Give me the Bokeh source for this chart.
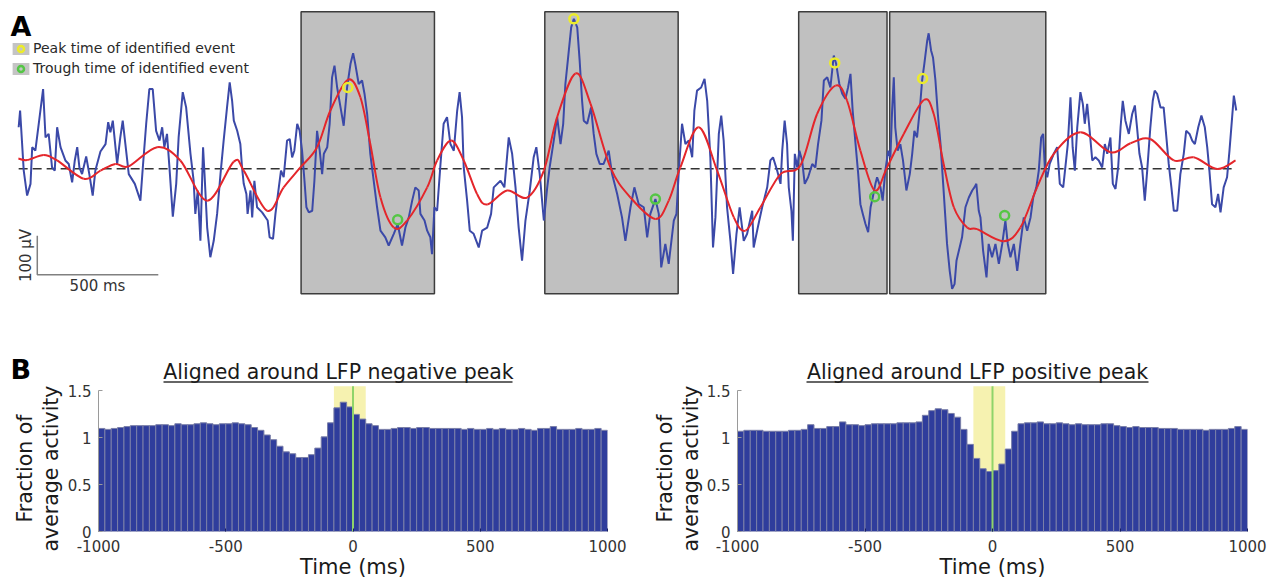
from math import pi
from bokeh.plotting import figure
from bokeh.layouts import column, row
from bokeh.models import (Range1d, Label, Legend, LegendItem, FixedTicker,
                          NumeralTickFormatter)
from bokeh.embed import file_html
from bokeh.resources import INLINE

FONT = "DejaVu Sans"

# ---------------- Panel A data: raw LFP (ms, uV) ----------------
lfp_t = [1, 7, 22, 36, 50, 57, 70, 84, 102, 112, 125, 139, 150, 160, 174, 194, 208, 222, 233, 243,
         252, 263, 280, 293, 307, 318, 339, 360, 371, 380, 390, 408, 421, 431, 442, 456, 481, 504, 514, 528,
         541, 555, 569, 583, 594, 603, 614, 625, 638, 652, 662, 679, 693, 711,
         724, 731, 741, 752, 763, 769, 780, 793, 807, 821, 835, 848, 862, 873, 883, 890, 904, 917, 924, 931,
         942, 947, 959, 966, 975, 986, 1007, 1030, 1038, 1052, 1062, 1076, 1085, 1096, 1110, 1121, 1131, 1140,
         1152, 1162, 1172, 1182, 1190, 1200, 1214, 1223, 1234, 1245, 1255, 1262, 1276, 1286, 1296, 1306, 1317,
         1331, 1344, 1358, 1372, 1383, 1392, 1406, 1420, 1430, 1441, 1454,
         1461, 1482, 1496, 1516, 1530, 1551, 1567, 1585, 1599, 1613, 1627, 1640, 1654, 1661, 1678, 1689, 1702,
         1709, 1719, 1730, 1744, 1757, 1771, 1785, 1799, 1813, 1823, 1833, 1840, 1854, 1865, 1881, 1902, 1916,
         1937, 1953, 1964, 1992, 2008, 2026, 2040, 2054, 2067, 2081, 2095, 2113, 2129, 2140, 2154, 2171, 2185,
         2195, 2212, 2226, 2240, 2251, 2260, 2270, 2284, 2295, 2309, 2319, 2329, 2336, 2350, 2366, 2377, 2388,
         2402, 2418, 2439, 2453, 2474, 2494, 2508, 2529, 2545, 2563, 2584, 2598, 2611, 2632, 2646, 2656, 2673,
         2687, 2708, 2719, 2728, 2742, 2756, 2770, 2784, 2793, 2804, 2821, 2835, 2846, 2859, 2870, 2880, 2894,
         2904, 2914, 2928, 2942, 2953, 2967, 2980, 2997, 3011, 3032, 3038, 3055, 3073, 3094, 3107, 3118, 3135,
         3149,
         3156, 3166, 3176, 3183, 3194, 3200, 3208, 3218, 3227, 3238, 3249, 3263, 3280, 3293, 3304, 3318, 3328,
         3342, 3355, 3369, 3379, 3392, 3404, 3417, 3428, 3438, 3447, 3459, 3470, 3479, 3489, 3500, 3511, 3521,
         3530, 3541, 3548, 3562, 3571, 3582, 3594, 3603, 3610, 3617,
         3623, 3633, 3644, 3655, 3669, 3683, 3693, 3702, 3713, 3724, 3734, 3743, 3755, 3761, 3771, 3779, 3789,
         3799, 3810, 3821, 3830, 3837, 3848, 3858, 3868, 3876, 3889, 3899, 3913, 3927, 3941, 3950, 3958, 3968,
         3975, 3986, 4000, 4009, 4023, 4037, 4051, 4065, 4078, 4088, 4099, 4113, 4127, 4140, 4154, 4168, 4182,
         4193, 4206, 4216, 4226, 4234, 4241, 4251, 4261, 4278, 4292, 4303, 4317, 4336,
         4347, 4356, 4365, 4375, 4388, 4398, 4406, 4416, 4425, 4437, 4450, 4464, 4478, 4489, 4499, 4512, 4522,
         4533, 4544, 4554, 4563, 4574, 4588, 4602, 4613, 4622, 4632, 4643, 4654, 4664, 4677, 4687, 4695, 4705,
         4719, 4732, 4742, 4753, 4764, 4774, 4788, 4801, 4815, 4825, 4839, 4850, 4861, 4875, 4888, 4902, 4912,
         4921, 4932, 4946, 4957, 4967, 4980, 4994, 5004, 5015, 5022, 5032]
lfp_uv = [106, 149, -5, -69, -39, 55, 46, 115, 204, 80, 89, 3, -5, 106, 55, 21, 12, -35, 21, 55,
          3, -14, 31, -14, -69, -5, 44, 63, 119, 93, 123, 12, 80, 123, 63, -14, -39, -82, 3, 115,
          204, 204, 97, 72, 106, 55, 89, -5, -123, -39, 80, 196, 157, 38,
          -31, -116, -56, -185, 55, -14, -151, -227, -185, -116, -14, 72, 157, 221, 174, 123, 97, 63, 3, -39,
          -65, -116, -56, -125, -31, -99, -112, -133, -176, -180, -116, -48, -5, -22, 72, 76, 29, 46,
          115, 97, 46, -31, -99, -112, -108, -31, 97, 46, -14, 38, 55, 115, 234, 264, 208,
          157, 110, 208, 268, 296, 268, 217, 226, 192, 140, 38,
          3, -99, -159, -176, -197, -167, -142, -197, -151, -125, -82, -48, -56, -116, -133, -159, -176,
          -219, -99, -108, 12, 115, 132, 63, 46, 149, 196, 132, 3, -82, -159, -167, -202, -159,
          -151, -116, -48, -31, -48, 80, 38, -48, -151, -236, -133, -56, 29, 55, -14, -133, -48,
          3, 72, 132, 63, 115, 217, 277, 362, 384, 362, 277, 174, 123, 115, 157, 89, 38,
          12, 12, 46, -14, -65, -125, -185, -99, -48, -91, -99, -176, -116, -78, -116, -253, -193,
          -244, -133, -116, -14, 115, 63, 72, 29, 149, 200, 208, 230, 174, 29, -202, -125, 89,
          136, 72, -99, -185, -270, -167, -99, -185, -167, -108, -202, -151, -99, -48, 21, 29, -5,
          -39,
          46, 123, 63, -48, -108, -185, 38, 3, 46, 21, -39, -22, 12, 3, 63, 123, 226,
          234, 208, 290, 268, 217, 192, 179, 208, 243, 149, 63, -14, -91, -116, -142, -163, -99,
          -74, -39, -22, -48, -82, -5, 46, 29, 149, 234,
          106, 46, 63, 21, -56, -14, 38, 97, 80, 149, 226, 268, 328, 347, 303, 285, 226,
          140, 63, -39, -125, -193, -262, -308, -296, -236, -202, -176, -99, -74, -56, -48, -39, -108,
          -125, -210, -279, -193, -227, -193, -244, -193, -133, -193, -227, -193, -262, -193, -125, -159, -125,
          -74, -48, -5, 80, 89, 3, -22, 12, 38, 55, -39, -48, 63,
          183, 55, -5, 106, 196, 166, 115, 166, 106, 21, 29, 21, 3, 63, 38, 80, -39,
          -52, 3, 106, 174, 123, 89, 140, 162, 106, 38, 3, -82, -5, 106, 174, 200, 192,
          157, 157, 89, 12, -48, -108, -108, -14, 38, 97, 89, 72, 63, 106, 136, 106, 55,
          -5, -91, -99, -65, -112, -48, -22, 46, 132, 187, 149]

# low-pass filtered LFP (ms, uV)
filt_t = [0, 36, 105, 160, 270, 339, 401, 456, 573, 669, 780, 890, 931, 1028, 1096, 1165, 1234, 1289,
          1362, 1413, 1454, 1496, 1551, 1606, 1689, 1730, 1788, 1840, 1895, 1937, 2019, 2102, 2171, 2226,
          2302, 2364, 2446, 2529, 2632, 2687, 2735, 2811, 2887, 2956, 3004, 3066, 3149, 3231, 3300, 3376,
          3424, 3479, 3538, 3589, 3658, 3741, 3782, 3823, 3865, 3920, 3961, 4071, 4140, 4209, 4278, 4388,
          4512, 4595, 4677, 4774, 4856, 4953, 5029]
filt_uv = [26, 22, 35, 21, -26, -5, 12, 6, 55, 21, -82, 18, -5, -108, -48, 3, 55, 149,
           228, 183, 63, -74, -151, -133, -48, 21, 72, 21, -65, -92, -56, -74, -5, 132,
           244, 166, 3, -74, -129, -82, 3, 106, -5, -125, -159, -99, -14, 8, 140, 213,
           174, 46, -56, 3, 89, 176, 140, 12, -99, -151, -155, -186, -151, -48, 38, 93,
           42, 65, 76, 21, 29, -1, 21]

# identified events
event_start = [1168, 2175, 3224, 3600]
event_end = [1719, 2726, 3589, 4245]
peak_t = [1361, 2295, 3373, 3736]
peak_uv = [208, 384, 271, 231]
trough_t = [1567, 2632, 3538, 4075]
trough_uv = [-131, -78, -72, -120]

# ---------------- Panel B data ----------------
bin_left = list(range(-1000, 1000, 25))
neg_rate = [1.10, 1.09, 1.10, 1.11, 1.12, 1.13, 1.13, 1.13, 1.13, 1.14,
            1.14, 1.13, 1.15, 1.14, 1.14, 1.15, 1.16, 1.15, 1.14, 1.15,
            1.15, 1.16, 1.15, 1.14, 1.11, 1.08, 1.03, 0.98, 0.91, 0.85,
            0.83, 0.79, 0.79, 0.82, 0.89, 1.01, 1.16, 1.32, 1.38, 1.33,
            1.25, 1.20, 1.15, 1.13, 1.09, 1.09, 1.10, 1.11, 1.11, 1.10,
            1.11, 1.11, 1.10, 1.10, 1.10, 1.10, 1.10, 1.09, 1.10, 1.09,
            1.09, 1.10, 1.09, 1.10, 1.09, 1.09, 1.10, 1.09, 1.08, 1.10,
            1.10, 1.12, 1.09, 1.09, 1.09, 1.10, 1.09, 1.09, 1.10, 1.08]
pos_rate = [1.07, 1.08, 1.08, 1.08, 1.07, 1.07, 1.07, 1.07, 1.08, 1.08,
            1.09, 1.14, 1.10, 1.10, 1.12, 1.12, 1.17, 1.14, 1.14, 1.13,
            1.14, 1.15, 1.15, 1.15, 1.15, 1.16, 1.16, 1.16, 1.17, 1.24,
            1.29, 1.31, 1.30, 1.26, 1.22, 1.09, 0.93, 0.78, 0.67, 0.64,
            0.65, 0.72, 0.88, 1.07, 1.15, 1.16, 1.16, 1.17, 1.15, 1.15,
            1.16, 1.15, 1.14, 1.15, 1.14, 1.14, 1.14, 1.15, 1.15, 1.13,
            1.12, 1.11, 1.12, 1.11, 1.11, 1.11, 1.10, 1.10, 1.10, 1.09,
            1.09, 1.09, 1.09, 1.08, 1.09, 1.09, 1.09, 1.10, 1.12, 1.09]
BIN = 25
window = [-75, 50]
titles = ["Aligned around LFP negative peak", "Aligned around LFP positive peak"]
ylabel_lines = ["Fraction of", "average activity"]

# ---------------- Panel A ----------------
BLUE = "#3b49a8"
RED = "#e4262b"
YEL = "#ecec2a"
GRN = "#55c645"


def screen_label(text, x, y, size, **kw):
    opts = dict(text_font=FONT, text_font_size=size, text_color="#1a1a1a",
                text_baseline="alphabetic")
    opts.update(kw)
    return Label(x=x, y=y, x_units="screen", y_units="screen", text=text, **opts)


def blank_figure(width, height):
    f = figure(width=width, height=height, x_range=Range1d(0, width), y_range=Range1d(0, height),
               x_axis_location=None, y_axis_location=None, output_backend="svg",
               toolbar_location=None, min_border=0, outline_line_color=None)
    f.frame_align = False
    f.grid.visible = False
    return f


pA = figure(width=1274, height=300, x_range=Range1d(-74, 5190), y_range=Range1d(-338, 431),
            x_axis_location=None, y_axis_location=None, output_backend="svg",
            toolbar_location=None, min_border=0, outline_line_color=None)
pA.frame_align = False
pA.grid.visible = False

pA.quad(left=event_start, right=event_end, top=402, bottom=-321,
        fill_color="#c0c0c0", line_color="#3c3c3c", line_width=1.5)
pA.line([lfp_t[0], lfp_t[-1]], [0, 0], line_dash="9 5", line_color="#333333", line_width=1.5)
pA.line(lfp_t, lfp_uv, line_color=BLUE, line_width=2)


# filtered trace drawn as a smooth (Catmull-Rom) curve through the read points
def smooth_segments(xs, ys):
    n = len(xs)
    seg = {k: [] for k in ("x0", "y0", "x1", "y1", "cx0", "cy0", "cx1", "cy1")}
    for i in range(n - 1):
        xa, ya = (xs[i - 1], ys[i - 1]) if i > 0 else (xs[i], ys[i])
        xd, yd = (xs[i + 2], ys[i + 2]) if i + 2 < n else (xs[i + 1], ys[i + 1])
        seg["x0"].append(xs[i]); seg["y0"].append(ys[i])
        seg["x1"].append(xs[i + 1]); seg["y1"].append(ys[i + 1])
        seg["cx0"].append(xs[i] + (xs[i + 1] - xa) / 6); seg["cy0"].append(ys[i] + (ys[i + 1] - ya) / 6)
        seg["cx1"].append(xs[i + 1] - (xd - xs[i]) / 6); seg["cy1"].append(ys[i + 1] - (yd - ys[i]) / 6)
    return seg


pA.bezier(**smooth_segments(filt_t, filt_uv), line_color=RED, line_width=2)

r_peak = pA.scatter(peak_t, peak_uv, marker="circle", size=9, fill_alpha=0,
                    line_color=YEL, line_width=2.5)
r_trough = pA.scatter(trough_t, trough_uv, marker="circle", size=9, fill_alpha=0,
                      line_color=GRN, line_width=2.5)
# gray swatch used only as legend background (lies outside the visible range)
r_sw = pA.quad(left=[-400], right=[-300], top=[0], bottom=[-10], fill_color="#c4c4c4", line_color=None)

legend = Legend(items=[LegendItem(label="Peak time of identified event", renderers=[r_sw, r_peak]),
                       LegendItem(label="Trough time of identified event", renderers=[r_sw, r_trough])],
                location=(10, 224), glyph_width=21, glyph_height=15, label_standoff=2, padding=0,
                margin=0, spacing=4, background_fill_alpha=0, border_line_color=None,
                label_text_font=FONT, label_text_font_size="14px", label_text_color="#2a2a2a",
                label_height=15)
pA.add_layout(legend)

# scale bar: 100 uV, 500 ms
SB_T, SB_V = 78, -272
pA.line([SB_T, SB_T, SB_T + 500], [SB_V + 100, SB_V, SB_V], line_color="#808080", line_width=1.5)
pA.add_layout(screen_label("100 µV", 25, 45, "15px", angle=pi / 2, text_align="center",
                           text_color="#333333"))
pA.add_layout(screen_label("500 ms", 97, 15, "15px", text_align="center", text_color="#333333"))
pA.add_layout(screen_label("A", 10, 274, "27px", text_font_style="bold", text_color="#000000"))

# ---------------- strip with "B" and the underlined panel titles ----------------
pT = blank_figure(1274, 84)
pT.add_layout(screen_label("B", 10, 15, "27px", text_font_style="bold", text_color="#000000"))
for cx, (ul0, ul1), txt in zip([338, 977], [(163, 512), (806, 1148)], titles):
    pT.add_layout(screen_label(txt, cx, 13, "20.5px", text_align="center"))
    pT.line([ul0, ul1], [2.5, 2.5], line_color="#333333", line_width=1.5)


# ---------------- y-label strips ----------------
def ylabel_strip(width, x1, x2):
    s = blank_figure(width, 197)
    for x, txt in zip([x1, x2], ylabel_lines):
        s.add_layout(screen_label(txt, x, 113, "20.5px", angle=pi / 2, text_align="center"))
    return s


# ---------------- Panel B ----------------
def make_panel(rates, width, right_border):
    p = figure(width=width, height=197, x_range=Range1d(-1000, 1000), y_range=Range1d(0, 1.569),
               min_border_left=34, min_border_right=right_border, min_border_top=0,
               min_border_bottom=50, output_backend="svg", toolbar_location=None,
               outline_line_color=None)
    p.frame_align = False
    p.grid.visible = False
    p.quad(left=window[0], right=window[1], bottom=0, top=1.55, fill_color="#f6f2b0", line_color=None)
    centers = [b + BIN / 2 for b in bin_left]
    p.vbar(x=centers, width=BIN, top=rates, bottom=0, fill_color="#2f3d9c",
           line_color="#7a7fa8", line_width=1)
    p.line([0, 0], [0, 1.55], line_color="#8fd46a", line_width=2)

    p.xaxis.ticker = FixedTicker(ticks=[-1000, -500, 0, 500, 1000])
    p.xaxis.formatter = NumeralTickFormatter(format="0")
    p.xaxis.axis_line_color = None
    p.xaxis.major_tick_in = 3
    p.xaxis.major_tick_out = 0
    p.xaxis.major_tick_line_color = "#1a2060"
    p.xaxis.minor_tick_line_color = None
    p.xaxis.major_label_standoff = 8
    p.xaxis.axis_label = "Time (ms)"
    p.xaxis.axis_label_standoff = 0

    p.yaxis.ticker = FixedTicker(ticks=[0, 0.5, 1, 1.5])
    p.yaxis.formatter = NumeralTickFormatter(format="0.[0]")
    p.yaxis.bounds = (0, 1.5)
    p.yaxis.axis_line_color = "#9a9a9a"
    p.yaxis.major_tick_in = 4
    p.yaxis.major_tick_out = 0
    p.yaxis.major_tick_line_color = "#9a9a9a"
    p.yaxis.minor_tick_line_color = None
    p.yaxis.major_label_standoff = 7
    for ax in (p.xaxis, p.yaxis):
        ax.major_label_text_font = FONT
        ax.major_label_text_font_size = "15px"
        ax.major_label_text_color = "#333333"
        ax.axis_label_text_font = FONT
        ax.axis_label_text_font_size = "21px"
        ax.axis_label_text_font_style = "normal"
        ax.axis_label_text_color = "#1a1a1a"
    return p


yl1 = ylabel_strip(64, 24, 50)
pB1 = make_panel(neg_rate, 583, 40)
yl2 = ylabel_strip(56, 17, 43)
pB2 = make_panel(pos_rate, 571, 27)

layout = column(pA, pT, row(yl1, pB1, yl2, pB2))
open("out.html", "w").write(file_html(layout, INLINE))
